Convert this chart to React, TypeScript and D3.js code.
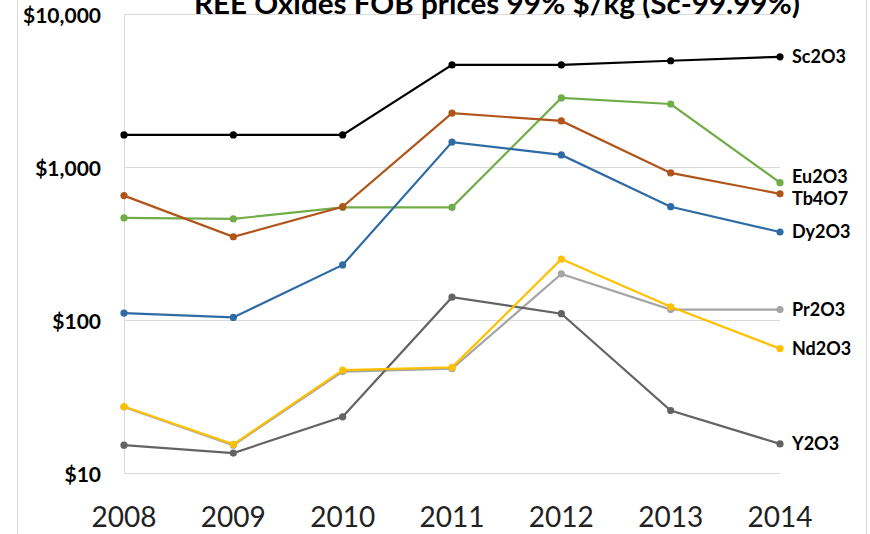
import React from 'react';
import * as d3 from 'd3';

const years = ['2008', '2009', '2010', '2011', '2012', '2013', '2014'];

const sc2o3 = [1620, 1620, 1620, 4650, 4650, 4950, 5250];
const eu2o3 = [465, 458, 545, 545, 2830, 2580, 790];
const tb4o7 = [650, 350, 550, 2250, 2000, 915, 668];
const dy2o3 = [111, 104, 229, 1455, 1200, 550, 376];
const pr2o3 = [27, 15.2, 46, 48, 200, 117, 117];
const nd2o3 = [27.2, 15.4, 47, 49, 250, 122, 65];
const y2o3 = [15.2, 13.5, 23.3, 141, 110, 25.6, 15.5];

const yTicks = [10, 100, 1000, 10000];

const series = [
  { name: 'Sc2O3', values: sc2o3, color: '#000000', dy: 0 },
  { name: 'Eu2O3', values: eu2o3, color: '#70AD47', dy: -6 },
  { name: 'Tb4O7', values: tb4o7, color: '#B0541A', dy: 5 },
  { name: 'Dy2O3', values: dy2o3, color: '#2E6BA4', dy: 0 },
  { name: 'Pr2O3', values: pr2o3, color: '#A5A5A5', dy: 0 },
  { name: 'Y2O3', values: y2o3, color: '#636363', dy: 0 },
  { name: 'Nd2O3', values: nd2o3, color: '#FFC000', dy: 0 },
];

const FONT = 'Lato, Carlito, "Open Sans", sans-serif';

export default function App() {
  const width = 870;
  const height = 534;
  const margin = { top: 14, right: 90, bottom: 61, left: 124 };

  const x = d3.scalePoint<string>()
    .domain(years)
    .range([margin.left, width - margin.right]);

  const y = d3.scaleLog()
    .domain([10, 10000])
    .range([height - margin.bottom, margin.top]);

  const line = d3.line<number>()
    .x((_, i) => x(years[i]) as number)
    .y(d => y(d));

  return (
    <div style={{ position: 'absolute', left: 0, top: 0 }}>
      <svg width={width} height={height} style={{ display: 'block', background: '#fff' }}>
        {/* chart border */}
        <line x1={17.5} x2={17.5} y1={0} y2={height} stroke="#D9D9D9" />
        <line x1={866.5} x2={866.5} y1={0} y2={height} stroke="#D9D9D9" />

        {/* gridlines */}
        {yTicks.map(t => (
          <line key={t} x1={margin.left} x2={width - margin.right}
            y1={Math.round(y(t)) + 0.5} y2={Math.round(y(t)) + 0.5}
            stroke="#D9D9D9" strokeWidth={1} />
        ))}
        <line x1={margin.left + 0.5} x2={margin.left + 0.5} y1={y(10000)} y2={y(10)}
          stroke="#D9D9D9" strokeWidth={1} />

        {/* y labels */}
        {yTicks.map(t => (
          <text key={t} x={101} y={y(t) + 2} dy="0.35em" textAnchor="end"
            fontFamily={FONT} fontWeight="bold" fontSize={21} fill="#000">
            {d3.format('$,')(t)}
          </text>
        ))}

        {/* x labels */}
        {years.map(yr => (
          <text key={yr} x={x(yr)} y={527} textAnchor="middle"
            fontFamily={FONT} fontSize={28} fill="#222">
            {yr}
          </text>
        ))}

        {/* series */}
        {series.map(s => (
          <g key={s.name}>
            <path d={line(s.values) || ''} fill="none" stroke={s.color} strokeWidth={2.2} />
            {s.values.map((v, i) => (
              <circle key={i} cx={x(years[i])} cy={y(v)} r={3.6} fill={s.color} />
            ))}
            <text x={792} y={y(s.values[s.values.length - 1]) + s.dy} dy="0.35em"
              fontFamily={FONT} fontWeight="bold" fontSize={18} fill="#000">
              {s.name}
            </text>
          </g>
        ))}

        {/* title */}
        <text x={497} y={14} textAnchor="middle" fontFamily={FONT} fontWeight="bold"
          fontSize={28} textLength={606} lengthAdjust="spacingAndGlyphs" fill="#000">
          REE Oxides FOB prices 99% $/kg (Sc-99.99%)
        </text>
      </svg>
    </div>
  );
}
